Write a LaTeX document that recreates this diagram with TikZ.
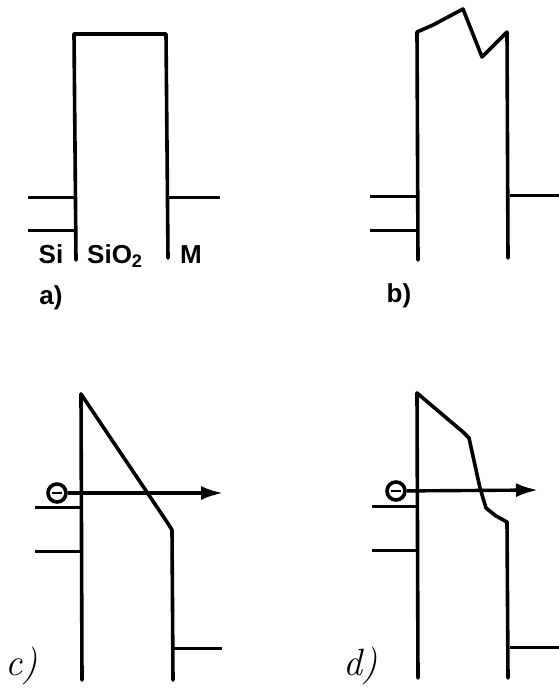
\documentclass[tikz,border=0pt]{standalone}
\usepackage{fontspec}
\setsansfont{Liberation Sans}
\usetikzlibrary{arrows.meta}
\begin{document}
\begin{tikzpicture}[x=1pt,y=-1pt,
  wall/.style={line width=3.6pt,line cap=round,line join=round},
  lvl/.style={line width=3pt},
  lbl/.style={font=\sffamily\bfseries\fontsize{26}{28}\selectfont,inner sep=0pt},
  hand/.style={font=\itshape\fontsize{38}{40}\selectfont,inner sep=0pt},
  elec/.style={circle,draw,line width=3.6pt,minimum size=18pt,inner sep=0pt},
  tunnel/.style={line width=3.4pt,-{Latex[length=22pt,width=14pt]}}]
\useasboundingbox (0,0) rectangle (559,688);
% ---------- a) ----------
\draw[wall] (76,260) -- (74,34) -- (166,34) -- (168,258);
\draw[lvl] (28,197) -- (76,197);
\draw[lvl] (28,230) -- (76,230);
\draw[lvl] (168,197) -- (220,197);
\node[lbl,anchor=base] (si) at (51,263) {Si};
\node[lbl,anchor=base west] (sio) at (87,263) {SiO\textsubscript{2}};
\node[lbl,anchor=base] (m) at (191,263) {M};
\node[lbl,anchor=base] (la) at (51,304) {a)};
% ---------- b) ----------
\draw[wall] (418,260) -- (417,32) -- (433,25) -- (463,9) -- (482,57) -- (507,32) -- (508,258);
\draw[lvl] (370,196) -- (417,196);
\draw[lvl] (370,230) -- (417,230);
\draw[lvl] (510,195) -- (559,195);
\node[lbl,anchor=base] (lb) at (399,302) {b)};
% ---------- c) ----------
\draw[wall] (82,680) -- (81,394);
\draw[wall] (81,394) -- (167,522) -- (172,530) -- (173,680);
\draw[lvl] (35,507) -- (82,507);
\draw[lvl] (35,551) -- (82,551);
\draw[lvl] (173,648) -- (222,648);
\node[elec] (ec) at (57,493) {};
\draw[line width=2.4pt] (52,493) -- (62,493);
\coordinate (tc) at (223,493);
\draw[tunnel] (ec) -- (tc);
\node[hand,anchor=base] (lc) at (22,675) {c)};
% ---------- d) ----------
\draw[wall] (418,678) -- (417,393);
\draw[wall] (417,393) -- (463,432) -- (469,438) -- (480,488) -- (486,508) -- (496,516) -- (507,522) -- (508,678);
\draw[lvl] (372,506) -- (418,506);
\draw[lvl] (372,550) -- (418,550);
\draw[lvl] (510,647) -- (559,647);
\node[elec] (ed) at (396,491) {};
\draw[line width=2.4pt] (391,491) -- (401,491);
\coordinate (td) at (538,490);
\draw[tunnel] (ed) -- (td);
\node[hand,anchor=base] (ld) at (361,675) {d)};
\end{tikzpicture}
\end{document}
